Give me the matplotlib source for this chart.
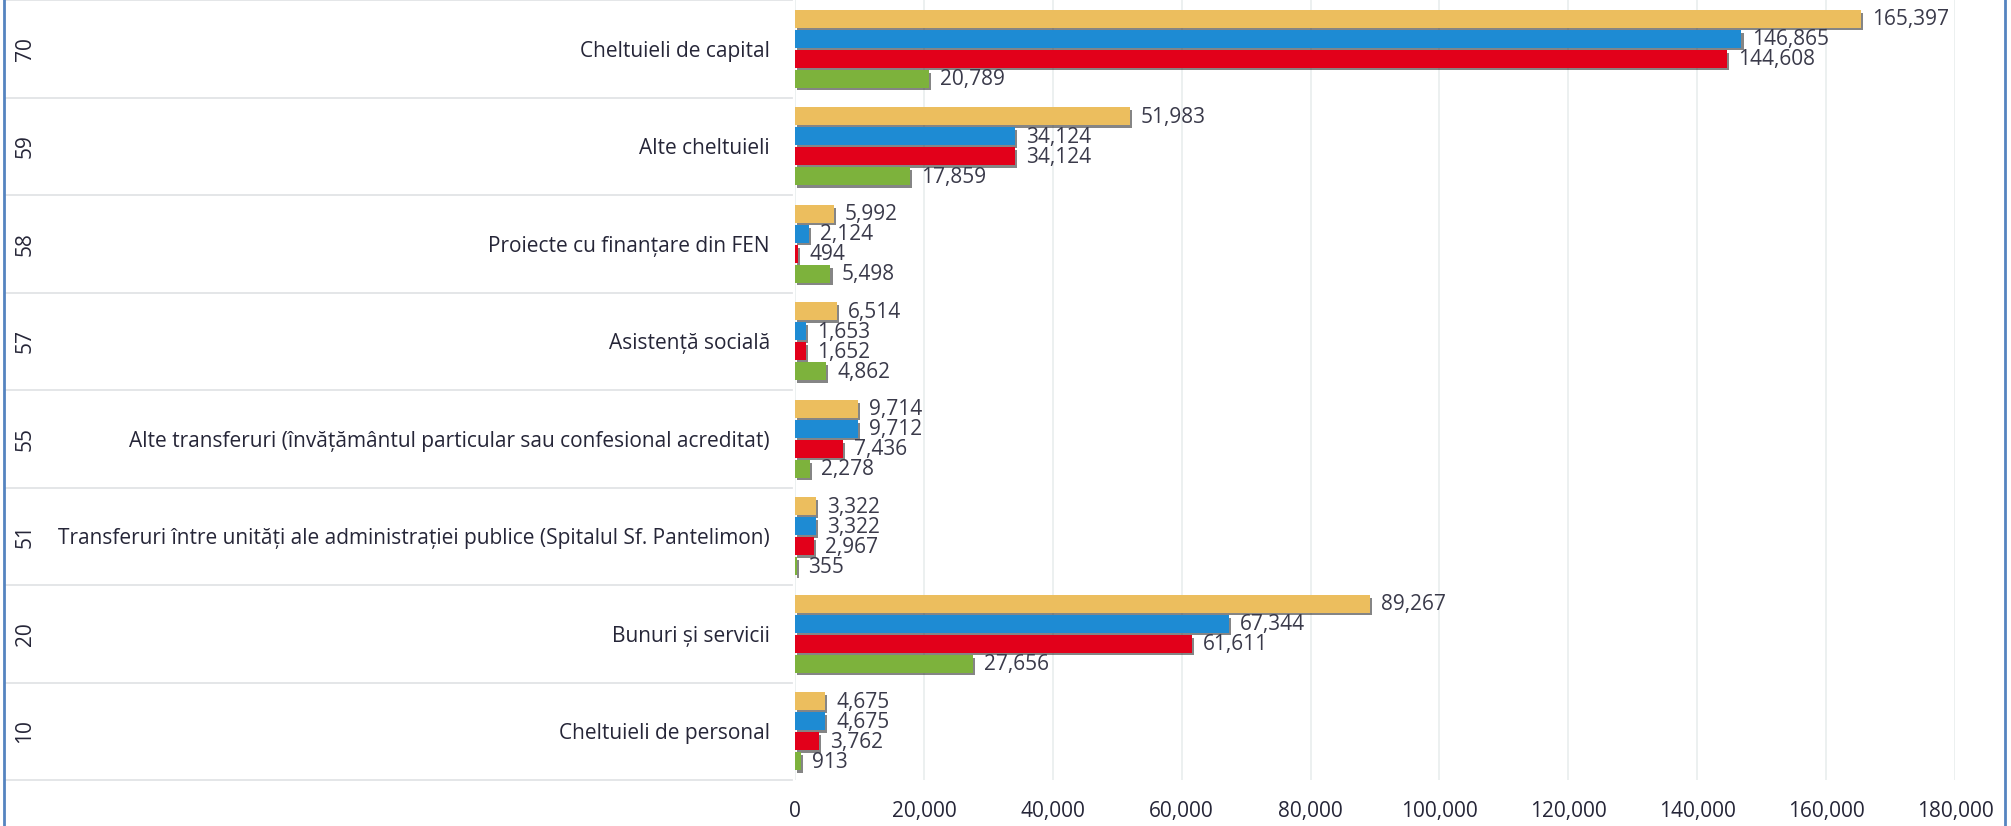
import matplotlib
matplotlib.use("Agg")
import matplotlib.pyplot as plt
import matplotlib.patheffects as pe
from matplotlib import transforms
from matplotlib.lines import Line2D
import numpy as np

codes = ["70", "59", "58", "57", "55", "51", "20", "10"]
categories = [
    "Cheltuieli de capital",
    "Alte cheltuieli",
    "Proiecte cu finanțare din FEN",
    "Asistență socială",
    "Alte transferuri (învățământul particular sau confesional acreditat)",
    "Transferuri între unități ale administrației publice (Spitalul Sf. Pantelimon)",
    "Bunuri și servicii",
    "Cheltuieli de personal",
]
series_yellow = [165397, 51983, 5992, 6514, 9714, 3322, 89267, 4675]
series_blue = [146865, 34124, 2124, 1653, 9712, 3322, 67344, 4675]
series_red = [144608, 34124, 494, 1652, 7436, 2967, 61611, 3762]
series_green = [20789, 17859, 5498, 4862, 2278, 355, 27656, 913]
xticks = [0, 20000, 40000, 60000, 80000, 100000, 120000, 140000, 160000, 180000]

colors = ["#ECBE5E", "#1E8BD3", "#E2001A", "#7DB23C"]
all_series = [series_yellow, series_blue, series_red, series_green]

FONT = ["Open Sans", "DejaVu Sans"]
plt.rcParams["font.family"] = FONT
txt_color = "#262638"

W, H = 2011, 826
fig = plt.figure(figsize=(W / 100, H / 100), dpi=100)
ax = fig.add_axes([795 / W, 46 / H, (1955 - 795) / W, (826 - 46) / H])

n = len(categories)
ypos = np.arange(n)
pitch = 0.205
bh = 0.18
shadow = [pe.SimplePatchShadow(offset=(1.5, -2), shadow_rgbFace="#222222", alpha=0.55), pe.Normal()]
for i, (vals, col) in enumerate(zip(all_series, colors)):
    off = (i - 1.5) * pitch
    bars = ax.barh(ypos + off, vals, height=bh, color=col, zorder=3)
    for b in bars:
        b.set_path_effects(shadow)
    for y, v in zip(ypos + off, vals):
        ax.annotate(f"{v:,}", xy=(v, y), xytext=(11, -1), textcoords="offset pixels",
                    va="center", ha="left", fontsize=15, color="#3a3a4a", zorder=4)

ax.set_xlim(0, 180000)
ax.set_ylim(n - 0.5, -0.5)
ax.set_xticks(xticks)
ax.set_xticklabels([f"{t:,}" for t in xticks], fontsize=15, color=txt_color)
ax.tick_params(axis="x", length=0, pad=15)
ax.set_yticks(ypos)
ax.set_yticklabels(categories, fontsize=15, color=txt_color)
ax.tick_params(axis="y", length=0, pad=18)
for s in ax.spines.values():
    s.set_visible(False)
ax.grid(axis="x", color="#e9eeee", linewidth=1.2, zorder=0)
ax.set_axisbelow(True)

blend = transforms.blended_transform_factory(fig.transFigure, ax.transData)
for y, c in zip(ypos, codes):
    ax.text(25 / W, y, c, transform=blend, rotation=90, ha="center", va="center",
            fontsize=15, color=txt_color)
for k in range(n + 1):
    ax.add_line(Line2D([5 / W, 792 / W], [k - 0.5, k - 0.5], transform=blend,
                       color="#e2e4e6", linewidth=1.3, clip_on=False))

# frame lines
fig.add_artist(Line2D([4 / W, 4 / W], [0, 1], transform=fig.transFigure, color="#5584c0", linewidth=2))
fig.add_artist(Line2D([2005 / W, 2005 / W], [0, 1], transform=fig.transFigure, color="#5584c0", linewidth=2))

fig.savefig("out.png", dpi=100, facecolor="white")
